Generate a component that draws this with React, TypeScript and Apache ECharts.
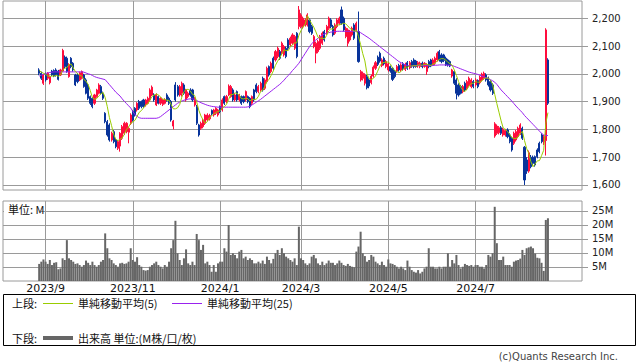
import React, { useEffect, useRef } from 'react';
import * as echarts from 'echarts';

// ---- trading calendar (categories) ----
const START = [2023, 8, 29];
const END = [2024, 8, 20];
const HOLIDAYS = ['2023-09-18', '2023-10-09', '2023-11-03', '2023-11-23', '2024-01-01', '2024-01-02', '2024-01-03', '2024-01-08', '2024-02-12', '2024-02-23', '2024-03-20', '2024-04-29', '2024-05-03', '2024-05-06', '2024-07-15', '2024-08-12'];

// ---- daily prices ----
const OPEN = [
  2014, 2002, 1966, 1998, 1984, 1968, 2010, 2012, 2014, 2010,
  1996, 2010, 2060, 2056, 1990, 2056, 2038, 1996, 1996, 1978,
  1984, 1996, 1978, 1960, 1918, 1912, 1894, 1918, 1930, 1954,
  1930, 1858, 1828, 1816, 1762, 1792, 1762, 1732, 1740, 1768,
  1786, 1792, 1790, 1822, 1864, 1876, 1870, 1900, 1900, 1906,
  1888, 1894, 1906, 1924, 1924, 1888, 1918, 1894, 1890, 1894,
  1924, 1912, 1900, 1812, 1960, 1954, 1924, 1930, 1960, 1906,
  1918, 1942, 1942, 1888, 1882, 1816, 1804, 1810, 1822, 1834,
  1838, 1868, 1852, 1858, 1852, 1882, 1870, 1918, 1900, 1924,
  1918, 1942, 1906, 1936, 1906, 1918, 1918, 1906, 1918, 1912,
  1894, 1942, 1960, 1936, 1942, 1984, 1948, 1972, 2026, 2008,
  2056, 2050, 2062, 2080, 2074, 2068, 2092, 2122, 2104, 2110,
  2092, 2146, 2170, 2170, 2170, 2176, 2176, 2194, 2170, 2098,
  2074, 2080, 2092, 2110, 2152, 2146, 2164, 2194, 2170, 2146,
  2170, 2182, 2230, 2200, 2134, 2110, 2122, 2140, 2176, 2158,
  2152, 1978, 1984, 1966, 1990, 1978, 1968, 1992, 2020, 2060,
  2074, 2030, 2056, 2026, 2014, 2026, 2020, 2008, 2010, 2030,
  2014, 2036, 2016, 2040, 2022, 2044, 2050, 2046, 2028, 2026,
  2038, 2026, 2008, 2044, 2050, 2032, 2038, 2050, 2080, 2068,
  2068, 2056, 2050, 2044, 1992, 2008, 1978, 1960, 1954, 1936,
  1966, 1948, 1960, 1954, 1972, 1960, 1976, 1968, 1978, 1984,
  1996, 1984, 1972, 1960, 1776, 1786, 1788, 1806, 1780, 1780,
  1798, 1780, 1768, 1750, 1762, 1774, 1786, 1804, 1736, 1690,
  1650, 1700, 1700, 1702, 1726, 1750, 1780, 1756, 1760, 2050,
];
const CLOSE = [
  2002, 1984, 1996, 1978, 2002, 1990, 1996, 1992, 1996, 1980,
  2014, 2084, 2026, 2008, 2032, 2026, 2014, 1960, 1972, 2004,
  2008, 1954, 1930, 1912, 1894, 1882, 1924, 1942, 1960, 1930,
  1912, 1828, 1780, 1762, 1786, 1756, 1738, 1756, 1786, 1810,
  1822, 1822, 1804, 1852, 1834, 1852, 1894, 1876, 1882, 1882,
  1906, 1912, 1942, 1952, 1906, 1924, 1894, 1912, 1906, 1906,
  1906, 1894, 1834, 1830, 1906, 1924, 1954, 1966, 1930, 1942,
  1930, 1924, 1906, 1912, 1822, 1780, 1822, 1834, 1852, 1852,
  1850, 1856, 1870, 1876, 1870, 1864, 1906, 1894, 1918, 1956,
  1954, 1906, 1924, 1906, 1924, 1894, 1900, 1936, 1900, 1882,
  1918, 1906, 1936, 1954, 1966, 1942, 1978, 2020, 1996, 2038,
  2020, 2080, 2092, 2056, 2110, 2098, 2062, 2092, 2128, 2140,
  2134, 2062, 2230, 2212, 2200, 2194, 2212, 2152, 2146, 2134,
  2110, 2116, 2134, 2146, 2122, 2170, 2200, 2170, 2140, 2176,
  2194, 2200, 2182, 2158, 2164, 2158, 2152, 2164, 2128, 2182,
  2044, 2008, 2002, 1996, 1950, 1956, 1992, 2024, 2040, 2034,
  2046, 2050, 2036, 2044, 2036, 2010, 1980, 1990, 2026, 2014,
  2032, 2018, 2034, 2020, 2040, 2028, 2026, 2026, 2040, 2038,
  2026, 2038, 2032, 2026, 2028, 2050, 2056, 2074, 2050, 2044,
  2048, 2032, 2032, 2028, 2014, 1966, 1930, 1924, 1930, 1954,
  1942, 1972, 1984, 1978, 1954, 1978, 1954, 1988, 1999, 2002,
  1978, 1960, 1942, 1930, 1820, 1812, 1806, 1786, 1800, 1796,
  1774, 1756, 1726, 1786, 1792, 1804, 1816, 1768, 1618, 1650,
  1716, 1666, 1678, 1672, 1702, 1720, 1756, 1774, 2158, 1894,
];
const LOW = [
  1995, 1978, 1960, 1972, 1978, 1962, 1992, 1988, 1990, 1976,
  1992, 2006, 2020, 2004, 1986, 2020, 2008, 1956, 1966, 1974,
  1980, 1950, 1926, 1906, 1888, 1876, 1888, 1914, 1926, 1926,
  1906, 1822, 1774, 1756, 1756, 1750, 1732, 1726, 1720, 1762,
  1780, 1786, 1750, 1816, 1828, 1846, 1864, 1870, 1876, 1878,
  1882, 1890, 1900, 1920, 1900, 1884, 1890, 1888, 1884, 1890,
  1900, 1888, 1828, 1800, 1900, 1918, 1918, 1918, 1924, 1900,
  1912, 1918, 1900, 1882, 1816, 1774, 1798, 1804, 1816, 1830,
  1832, 1850, 1846, 1852, 1846, 1858, 1864, 1888, 1894, 1920,
  1914, 1900, 1900, 1900, 1900, 1888, 1894, 1900, 1894, 1876,
  1888, 1900, 1930, 1930, 1936, 1936, 1942, 1966, 1990, 2002,
  2014, 2044, 2056, 2050, 2068, 2062, 2056, 2086, 2098, 2104,
  2086, 2056, 2160, 2164, 2164, 2170, 2170, 2146, 2140, 2092,
  2038, 2074, 2086, 2104, 2116, 2140, 2158, 2164, 2134, 2140,
  2164, 2176, 2176, 2152, 2128, 2098, 2116, 2134, 2122, 2152,
  2040, 1972, 1976, 1958, 1944, 1948, 1962, 1986, 2014, 2028,
  2040, 2024, 2030, 2020, 2008, 2004, 1974, 1984, 2004, 2008,
  2008, 2012, 2010, 2014, 2016, 2022, 2020, 2022, 2022, 2020,
  2020, 2022, 1996, 2020, 2024, 2028, 2032, 2044, 2044, 2038,
  2042, 2028, 2026, 2024, 1986, 1960, 1908, 1918, 1926, 1930,
  1936, 1942, 1954, 1948, 1948, 1954, 1948, 1962, 1972, 1978,
  1972, 1954, 1936, 1924, 1770, 1780, 1782, 1780, 1774, 1774,
  1768, 1750, 1720, 1744, 1756, 1768, 1780, 1762, 1600, 1640,
  1644, 1660, 1670, 1666, 1696, 1714, 1750, 1744, 1706, 1888,
];
const HIGH = [
  2020, 2008, 2000, 2004, 2006, 1994, 2014, 2016, 2020, 2014,
  2018, 2090, 2066, 2062, 2038, 2060, 2042, 2000, 2002, 2008,
  2012, 2000, 1984, 1964, 1922, 1916, 1928, 1946, 1966, 1960,
  1936, 1862, 1834, 1822, 1792, 1798, 1768, 1762, 1790, 1816,
  1828, 1826, 1810, 1858, 1870, 1880, 1898, 1906, 1904, 1910,
  1910, 1918, 1948, 1958, 1930, 1930, 1922, 1916, 1910, 1912,
  1930, 1918, 1906, 1834, 1970, 1960, 1960, 1972, 1966, 1946,
  1936, 1948, 1946, 1916, 1888, 1820, 1828, 1838, 1856, 1858,
  1856, 1872, 1874, 1880, 1874, 1886, 1912, 1922, 1924, 1962,
  1960, 1948, 1930, 1940, 1928, 1922, 1922, 1940, 1922, 1916,
  1922, 1946, 1966, 1960, 1972, 1990, 1984, 2026, 2030, 2044,
  2062, 2086, 2098, 2086, 2116, 2104, 2098, 2128, 2134, 2146,
  2140, 2150, 2244, 2218, 2206, 2200, 2218, 2200, 2176, 2140,
  2116, 2122, 2140, 2152, 2158, 2176, 2206, 2200, 2176, 2182,
  2200, 2206, 2242, 2206, 2170, 2164, 2158, 2170, 2182, 2188,
  2224, 2014, 2008, 2002, 1996, 1984, 1998, 2030, 2046, 2066,
  2080, 2056, 2062, 2050, 2040, 2030, 2024, 2014, 2032, 2036,
  2038, 2042, 2040, 2046, 2046, 2050, 2056, 2050, 2046, 2044,
  2044, 2042, 2038, 2050, 2054, 2056, 2062, 2080, 2086, 2074,
  2072, 2062, 2054, 2048, 2018, 2012, 1984, 1966, 1960, 1960,
  1972, 1978, 1990, 1984, 1978, 1984, 1980, 1994, 2004, 2008,
  2002, 1990, 1978, 1966, 1826, 1818, 1812, 1812, 1806, 1802,
  1804, 1786, 1774, 1792, 1798, 1810, 1822, 1810, 1740, 1700,
  1724, 1708, 1706, 1706, 1732, 1756, 1786, 1780, 2164, 2056,
];
// 25-day simple moving average
const MA25 = [
  1992, 1995, 1998, 2001, 2003, 2005, 2006, 2007, 2007, 2007,
  2007, 2007, 2007, 2007, 2007, 2007, 2007, 2007, 2007, 2007,
  2007, 2006, 2003, 2000, 1998, 1994, 1990, 1987, 1985, 1983,
  1981, 1979, 1970, 1961, 1952, 1943, 1934, 1927, 1920, 1910,
  1901, 1893, 1885, 1877, 1865, 1853, 1847, 1842, 1840, 1840,
  1840, 1840, 1840, 1840, 1840, 1840, 1842, 1846, 1852, 1858,
  1864, 1870, 1876, 1882, 1888, 1894, 1898, 1902, 1905, 1907,
  1909, 1910, 1910, 1908, 1904, 1900, 1896, 1893, 1890, 1887,
  1885, 1883, 1882, 1881, 1880, 1880, 1880, 1880, 1880, 1880,
  1880, 1880, 1880, 1880, 1880, 1880, 1880, 1880, 1881, 1883,
  1888, 1893, 1898, 1903, 1908, 1914, 1920, 1926, 1932, 1938,
  1944, 1950, 1956, 1962, 1969, 1977, 1986, 1994, 2002, 2012,
  2020, 2029, 2038, 2050, 2062, 2074, 2086, 2098, 2108, 2116,
  2122, 2128, 2134, 2140, 2143, 2146, 2148, 2150, 2151, 2152,
  2153, 2153, 2153, 2153, 2153, 2153, 2153, 2153, 2153, 2153,
  2153, 2148, 2143, 2138, 2133, 2128, 2122, 2116, 2110, 2104,
  2098, 2092, 2086, 2080, 2074, 2068, 2062, 2056, 2050, 2044,
  2040, 2036, 2032, 2030, 2029, 2028, 2029, 2030, 2030, 2030,
  2030, 2030, 2030, 2030, 2030, 2030, 2031, 2031, 2032, 2032,
  2032, 2032, 2031, 2031, 2030, 2027, 2024, 2021, 2018, 2015,
  2012, 2009, 2006, 2004, 2002, 2000, 1998, 1995, 1992, 1989,
  1986, 1983, 1979, 1975, 1970, 1962, 1952, 1942, 1934, 1926,
  1918, 1910, 1902, 1893, 1884, 1876, 1868, 1860, 1850, 1842,
  1834, 1826, 1818, 1810, 1802, 1794, 1786, 1780, 1778, 1778,
];
// first 4 values of the 5-day average (window starts before the chart)
const MA5_HEAD = [2012, 2006, 2002, 1998];
// volume, millions
const VOLUME = [
  6.1, 6.9, 7.7, 6.9, 6.1, 7.5, 5.7, 6.5, 6.7, 4.2,
  4.5, 8.1, 7.5, 14.6, 8.1, 7.5, 6.9, 6.1, 6.3, 5.7,
  5.1, 5.7, 7.3, 6.5, 5.7, 6.9, 5.7, 5.1, 5.7, 6.9,
  7.5, 17.0, 11.7, 8.1, 7.5, 6.3, 5.7, 5.1, 6.3, 6.5,
  6.1, 6.3, 6.9, 11.7, 7.5, 6.9, 8.5, 5.7, 5.1, 3.9,
  3.7, 3.9, 5.1, 5.7, 6.3, 6.9, 5.7, 5.1, 4.5, 5.7,
  5.1, 6.9, 11.7, 14.6, 21.5, 9.9, 7.5, 5.7, 8.1, 11.3,
  6.3, 5.7, 6.9, 5.7, 16.8, 14.6, 11.1, 12.9, 6.3, 6.9,
  5.7, 3.3, 5.7, 3.3, 6.3, 6.9, 6.9, 11.7, 10.5, 20.0,
  9.3, 9.9, 9.3, 8.1, 10.5, 11.1, 8.1, 8.7, 7.5, 8.1,
  7.5, 6.3, 6.3, 6.9, 6.3, 7.3, 6.1, 8.7, 7.5, 6.3,
  7.9, 9.9, 11.1, 9.3, 11.7, 9.9, 8.7, 8.1, 7.5, 6.9,
  8.1, 5.7, 19.4, 8.1, 7.5, 6.3, 5.7, 6.3, 8.7, 9.3,
  8.1, 6.3, 5.7, 6.9, 5.7, 6.3, 7.3, 6.5, 6.5, 5.7,
  6.3, 7.3, 6.5, 5.7, 5.4, 6.1, 5.4, 5.1, 4.9, 10.5,
  12.3, 17.6, 9.9, 8.9, 6.9, 7.5, 9.3, 8.7, 6.9, 6.3,
  5.7, 6.9, 5.7, 5.1, 7.7, 6.3, 6.1, 5.7, 5.1, 4.5,
  5.1, 4.5, 3.9, 7.3, 5.1, 3.9, 3.3, 3.0, 3.9, 2.7,
  3.3, 4.5, 5.1, 11.7, 5.1, 5.1, 4.5, 4.5, 5.1, 4.5,
  5.1, 5.1, 9.9, 5.1, 7.5, 6.3, 9.3, 5.7, 4.5, 5.1,
  6.1, 5.7, 5.4, 5.7, 5.1, 5.7, 5.7, 5.1, 5.1, 4.5,
  5.7, 9.3, 8.7, 9.9, 26.5, 13.5, 7.5, 7.5, 8.7, 5.7,
  5.7, 5.7, 5.1, 6.9, 7.3, 7.5, 8.0, 11.1, 9.3, 11.7,
  12.0, 12.3, 11.7, 9.8, 8.3, 8.1, 6.5, 3.6, 21.8, 22.4,
];
const PRICE_TICKS = [1600, 1700, 1800, 1900, 2000, 2100, 2200];
const VOLUME_TICKS = [5, 10, 15, 20, 25];

const PAD_LEFT = 17;
const PAD_RIGHT = 16;

function tradingDays(): string[] {
  const out: string[] = [];
  const d = new Date(START[0], START[1] - 1, START[2]);
  const end = new Date(END[0], END[1] - 1, END[2]);
  while (d <= end) {
    const wd = d.getDay();
    const s = `${d.getFullYear()}-${String(d.getMonth() + 1).padStart(2, '0')}-${String(d.getDate()).padStart(2, '0')}`;
    if (wd !== 0 && wd !== 6 && HOLIDAYS.indexOf(s) < 0) out.push(s);
    d.setDate(d.getDate() + 1);
  }
  return out;
}

export default function App() {
  const ref = useRef<HTMLDivElement>(null);
  useEffect(() => {
    if (!ref.current) return;
    const chart = echarts.init(ref.current, undefined, { renderer: 'svg' });
    const dates = tradingDays();
    const n = Math.min(dates.length, CLOSE.length);
    const cats: string[] = [];
    for (let k = 0; k < PAD_LEFT; k++) cats.push('L' + k);
    for (let i = 0; i < n; i++) cats.push(dates[i]);
    for (let k = 0; k < PAD_RIGHT; k++) cats.push('R' + k);

    const monthStart = new Set<number>();
    for (let i = 1; i < n; i++) {
      const m = Number(dates[i].slice(5, 7));
      const pm = Number(dates[i - 1].slice(5, 7));
      if (m !== pm && m % 2 === 1) monthStart.add(i + PAD_LEFT);
    }
    const isMonth = (idx: number) => monthStart.has(idx);

    const candles: any[] = [];
    const vols: any[] = [];
    const ma5: any[] = [];
    const ma25: any[] = [];
    for (let i = 0; i < n; i++) {
      const x = i + PAD_LEFT;
      candles.push([x, OPEN[i], CLOSE[i], LOW[i], HIGH[i]]);
      vols.push([x, VOLUME[i]]);
      let m5: number;
      if (i < 4) m5 = MA5_HEAD[i];
      else m5 = (CLOSE[i] + CLOSE[i - 1] + CLOSE[i - 2] + CLOSE[i - 3] + CLOSE[i - 4]) / 5;
      ma5.push([x, Math.round(m5 * 10) / 10]);
      ma25.push([x, MA25[i]]);
    }

    const gridLine = { color: '#9a9a9a', width: 1 };
    const labelFont = 'DejaVu Sans';
    const cjk = '"Noto Sans CJK JP", "Noto Sans", sans-serif';
    const UP = '#ff0d3d';
    const DOWN = '#08339a';

    const option: any = {
      animation: false,
      backgroundColor: '#ffffff',
      textStyle: { fontFamily: labelFont },
      grid: [
        { left: 3, top: 1, width: 579, height: 189, show: true, borderColor: '#9a9a9a', borderWidth: 1, backgroundColor: 'transparent' },
        { left: 3, top: 201, width: 579, height: 80, show: true, borderColor: '#9a9a9a', borderWidth: 1, backgroundColor: 'transparent' },
      ],
      xAxis: [
        {
          type: 'category', gridIndex: 0, data: cats, boundaryGap: false,
          axisLine: { show: false }, axisTick: { show: false }, axisLabel: { show: false },
          splitLine: { show: true, interval: (idx: number) => isMonth(idx), lineStyle: gridLine },
        },
        {
          type: 'category', gridIndex: 1, data: cats, boundaryGap: false,
          axisLine: { show: false }, axisTick: { show: false },
          axisLabel: {
            show: true, interval: (idx: number) => isMonth(idx), margin: 2,
            fontSize: 11, color: '#111', fontFamily: labelFont,
            formatter: (v: string) => {
              const p = v.split('-');
              return p.length === 3 ? `${p[0]}/${Number(p[1])}` : '';
            },
          },
          splitLine: { show: true, interval: (idx: number) => isMonth(idx), lineStyle: gridLine },
        },
      ],
      yAxis: [
        {
          type: 'value', gridIndex: 0, position: 'right', min: 1582, max: 2262, splitNumber: 6,
          axisLine: { show: false },
          axisTick: { show: true, length: 6, lineStyle: { color: '#9a9a9a' }, customValues: PRICE_TICKS },
          axisLabel: {
            margin: 10, fontSize: 10, color: '#222', fontFamily: labelFont,
            customValues: PRICE_TICKS,
            formatter: (v: number) => v.toLocaleString('en-US'),
          },
          splitLine: { show: true, lineStyle: gridLine },
        },
        {
          type: 'value', gridIndex: 1, position: 'right', min: 0, max: 28.57, interval: 5,
          axisLine: { show: false },
          axisTick: { show: true, length: 6, lineStyle: { color: '#9a9a9a' }, customValues: VOLUME_TICKS },
          axisLabel: {
            margin: 10, fontSize: 10, color: '#222', fontFamily: labelFont,
            customValues: VOLUME_TICKS,
            formatter: (v: number) => `${v}M`,
          },
          splitLine: { show: true, lineStyle: gridLine },
        },
      ],
      series: [
        {
          type: 'candlestick', name: 'price', xAxisIndex: 0, yAxisIndex: 0,
          data: candles, encode: { x: 0, y: [1, 2, 3, 4] }, barWidth: 1.6,
          itemStyle: { color: UP, color0: DOWN, borderColor: UP, borderColor0: DOWN, borderWidth: 1 },
        },
        {
          type: 'line', name: '単純移動平均(5)', xAxisIndex: 0, yAxisIndex: 0, data: ma5,
          showSymbol: false, symbol: 'none', lineStyle: { color: '#99cc00', width: 1 }, z: 5,
        },
        {
          type: 'line', name: '単純移動平均(25)', xAxisIndex: 0, yAxisIndex: 0, data: ma25,
          showSymbol: false, symbol: 'none', lineStyle: { color: '#9922ee', width: 1 }, z: 4,
        },
        {
          type: 'bar', name: '出来高', xAxisIndex: 1, yAxisIndex: 1, data: vols,
          barWidth: 2, itemStyle: { color: '#666666' },
        },
      ],
      graphic: [
        { type: 'rect', shape: { x: 4, y: 202, width: 37, height: 13 }, style: { fill: '#ffffff' }, z: 100 },
        { type: 'text', x: 8, y: 209, style: { text: '単位: M', font: `11px ${cjk}`, fill: '#111', verticalAlign: 'middle' }, z: 101 },
        { type: 'rect', shape: { x: 3.5, y: 294.5, width: 632, height: 51 }, style: { fill: 'none', stroke: '#000', lineWidth: 1 }, z: 100 },
        { type: 'text', x: 12, y: 303, style: { text: '上段:', font: `11px ${cjk}`, fill: '#111', verticalAlign: 'middle' }, z: 101 },
        { type: 'line', shape: { x1: 43, y1: 303.5, x2: 73, y2: 303.5 }, style: { stroke: '#99cc00', lineWidth: 1 }, z: 101 },
        { type: 'text', x: 78, y: 303, style: { text: '単純移動平均(5)', font: `11px ${cjk}`, fill: '#111', verticalAlign: 'middle' }, z: 101 },
        { type: 'line', shape: { x1: 172, y1: 303.5, x2: 202, y2: 303.5 }, style: { stroke: '#9922ee', lineWidth: 1 }, z: 101 },
        { type: 'text', x: 207, y: 303, style: { text: '単純移動平均(25)', font: `11px ${cjk}`, fill: '#111', verticalAlign: 'middle' }, z: 101 },
        { type: 'text', x: 12, y: 338, style: { text: '下段:', font: `11px ${cjk}`, fill: '#111', verticalAlign: 'middle' }, z: 101 },
        { type: 'line', shape: { x1: 43, y1: 338, x2: 73, y2: 338 }, style: { stroke: '#666666', lineWidth: 4 }, z: 101 },
        { type: 'text', x: 78, y: 338, style: { text: '出来高 単位:(M株/口/枚)', font: `11px ${cjk}`, fill: '#111', verticalAlign: 'middle' }, z: 101 },
        { type: 'text', x: 618, y: 356, style: { text: '(c)Quants Research Inc.', font: `10px ${labelFont}`, fill: '#444', align: 'right', verticalAlign: 'middle' }, z: 101 },
      ],
    };
    chart.setOption(option);
    return () => chart.dispose();
  }, []);
  return (
    <div
      ref={ref}
      style={{ position: 'fixed', left: 0, top: 0, width: 638, height: 362, background: '#fff' }}
    />
  );
}
